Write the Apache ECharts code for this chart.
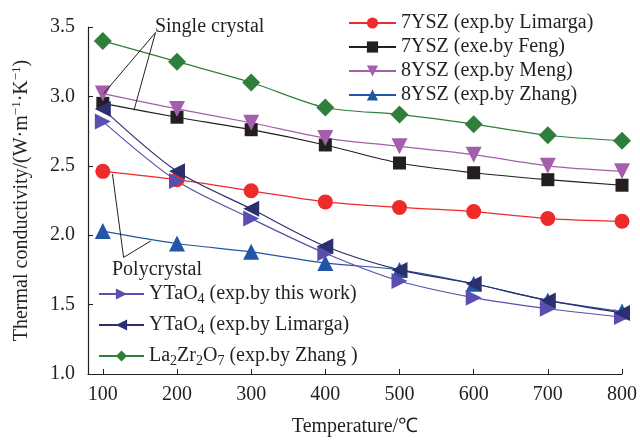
<!DOCTYPE html>
<html><head><meta charset="utf-8">
<script src="https://cdn.jsdelivr.net/npm/echarts@6/dist/echarts.min.js"></script>
<style>html,body{margin:0;padding:0;background:#fff}#c{width:640px;height:442px}</style>
</head><body><div id="c"></div>
<script>
var temps = [100, 200, 300, 400, 500, 600, 700, 800];
var ysz7Limarga = [2.46, 2.40, 2.32, 2.24, 2.20, 2.17, 2.12, 2.10];
var ysz7Feng    = [2.95, 2.85, 2.76, 2.65, 2.52, 2.45, 2.40, 2.36];
var ysz8Meng    = [3.02, 2.91, 2.81, 2.70, 2.64, 2.58, 2.50, 2.46];
var ysz8Zhang   = [2.03, 1.94, 1.88, 1.80, 1.75, 1.65, 1.53, 1.45];
var ytaoThis    = [2.82, 2.39, 2.12, 1.87, 1.67, 1.55, 1.47, 1.41];
var ytaoLimarga = [2.91, 2.46, 2.19, 1.92, 1.75, 1.65, 1.53, 1.44];
var lzoZhang    = [3.40, 3.25, 3.10, 2.92, 2.87, 2.80, 2.72, 2.68];
var yTicks = [1.0, 1.5, 2.0, 2.5, 3.0, 3.5];

var names = ['7YSZ (exp.by Limarga)', '7YSZ (exe.by Feng)', '8YSZ (exp.by Meng)', '8YSZ (exp.by Zhang)',
             'YTaO4 (exp.by this work)', 'YTaO4 (exp.by Limarga)', 'La2Zr2O7 (exp.by Zhang )'];
var richNames = {};
richNames[names[4]] = '{a|YTaO}{b|4}{a| (exp.by this work)}';
richNames[names[5]] = '{a|YTaO}{b|4}{a| (exp.by Limarga)}';
richNames[names[6]] = '{a|La}{b|2}{a|Zr}{b|2}{a|O}{b|7}{a| (exp.by Zhang )}';

var font = 'Liberation Serif, Times New Roman, serif';
var ink = '#231f20';
var FS = 20;
var rich = {
  a:{fontSize:FS, fontFamily:font, color:ink, lineHeight:24},
  b:{fontSize:14, fontFamily:font, color:ink, lineHeight:14, verticalAlign:'bottom'},
  s:{fontSize:13, fontFamily:font, color:ink, lineHeight:13, verticalAlign:'top'}
};
function pairs(arr){ return temps.map(function(t,i){ return [t, arr[i]]; }); }
function ser(name, data, color, symbol, size, rot){
  return {name:name, type:'line', data:pairs(data), smooth:0.3, symbol:symbol, symbolSize:size,
    symbolRotate:rot||0, lineStyle:{color:color, width:1.2}, itemStyle:{color:color}, z:2};
}
var chart = echarts.init(document.getElementById('c'));
chart.setOption({
  animation:false,
  textStyle:{fontFamily:font},
  grid:{left:88, right:18, top:27, bottom:63},
  xAxis:{type:'value', min:80, max:800, name:'Temperature/℃', nameLocation:'middle', nameGap:43,
    nameTextStyle:{fontSize:FS, color:ink, fontFamily:font},
    axisLine:{lineStyle:{color:ink, width:1.2}},
    axisTick:{inside:true, length:5, customValues:temps, lineStyle:{color:ink}},
    axisLabel:{customValues:temps, fontSize:FS, color:ink, margin:11, fontFamily:font},
    splitLine:{show:false}},
  yAxis:{type:'value', min:1, max:3.5,
    name:'{a|Thermal conductivity/(W·m}{s|−1}{a|·K}{s|−1}{a|)}', nameLocation:'middle', nameGap:54,
    nameTextStyle:{fontSize:FS, color:ink, fontFamily:font, rich:rich},
    axisLine:{show:true, lineStyle:{color:ink, width:1.2}},
    axisTick:{show:true, inside:true, length:5, customValues:yTicks, lineStyle:{color:ink}},
    axisLabel:{customValues:yTicks, fontSize:FS, color:ink, margin:13, fontFamily:font,
      formatter:function(v){return v.toFixed(1);}},
    splitLine:{show:false}},
  legend:[
    {data:names.slice(0,4), orient:'vertical', left:343, top:8, itemWidth:47, itemHeight:14, itemGap:4,
      textStyle:{fontSize:FS, color:ink, fontFamily:font}},
    {data:names.slice(4), orient:'vertical', left:93, top:279, itemWidth:45, itemHeight:14, itemGap:9,
      formatter:function(n){ return richNames[n] || n; },
      textStyle:{fontSize:FS, color:ink, fontFamily:font, rich:rich}}
  ],
  series:[
    ser(names[0], ysz7Limarga, '#ee2a2a', 'circle', 15),
    ser(names[1], ysz7Feng, ink, 'rect', 13),
    ser(names[2], ysz8Meng, '#a45eab', 'triangle', 16, 180),
    ser(names[3], ysz8Zhang, '#2255a6', 'triangle', 16),
    ser(names[4], ytaoThis, '#5a4fae', 'triangle', 16, -90),
    ser(names[5], ytaoLimarga, '#2b2f6e', 'triangle', 16, 90),
    ser(names[6], lzoZhang, '#2e7f3b', 'diamond', 18)
  ]
});
function px(x,y){ return chart.convertToPixel({gridIndex:0}, [x,y]); }
var sc = px(171, 3.46), s1 = px(101, 3.02), s2 = px(142, 2.90);
var pc = px(128, 1.84), p1 = px(113, 2.44), p2 = px(165, 1.96);
var st = px(244, 3.50), pt = px(173, 1.75);
chart.setOption({graphic:[
  {type:'polyline', shape:{points:[s1, sc, s2]}, style:{stroke:ink, lineWidth:1, fill:null}, z:10},
  {type:'polyline', shape:{points:[p1, pc, p2]}, style:{stroke:ink, lineWidth:1, fill:null}, z:10},
  {type:'text', x:st[0], y:st[1], style:{text:'Single crystal', font:FS + 'px ' + font, fill:ink, textAlign:'center', textVerticalAlign:'middle'}, z:10},
  {type:'text', x:pt[0], y:pt[1], style:{text:'Polycrystal', font:FS + 'px ' + font, fill:ink, textAlign:'center', textVerticalAlign:'middle'}, z:10}
]});
</script></body></html>
